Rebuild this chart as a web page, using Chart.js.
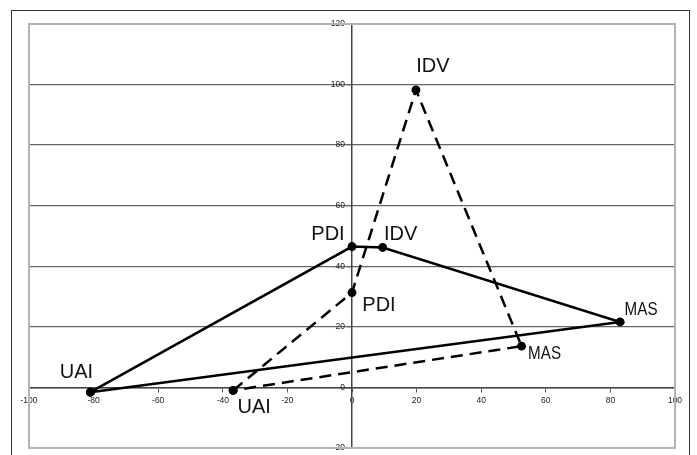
<!DOCTYPE html>
<html>
<head>
<meta charset="utf-8">
<script src="https://cdn.jsdelivr.net/npm/chart.js@4"></script>
<style>
  html, body { margin: 0; padding: 0; background: #fff; }
  #wrap { position: relative; width: 697px; height: 455px; }
  #frame { position: absolute; left: 11px; top: 10px; width: 677px; height: 460px;
           border-left: 1.5px solid #333; border-top: 1.5px solid #333; border-right: 1.5px solid #333; }
  canvas { position: absolute; left: 0; top: 0; }
</style>
</head>
<body>
<div id="wrap">
  <div id="frame"></div>
  <canvas id="c" width="697" height="455"></canvas>
</div>
<script>
// Dimension names
const dimensions = ['UAI', 'PDI', 'IDV', 'MAS'];
// Solid profile (x, y)
const solidX = [-81, 0, 9.5, 83];
const solidY = [-1.6, 46.5, 46.2, 21.6];
// Dashed profile (x, y)
const dashedX = [-36.8, 0, 19.8, 52.5];
const dashedY = [-1.0, 31.3, 98.2, 13.6];
// Axis ticks
const xTicks = [-100, -80, -60, -40, -20, 0, 20, 40, 60, 80, 100];
const yTicks = [-20, 0, 20, 40, 60, 80, 100, 120];

function closedPoints(xs, ys) {
  const pts = xs.map((x, i) => ({ x: x, y: ys[i] }));
  pts.push({ x: xs[0], y: ys[0] });
  return pts;
}

// label offsets (pixels) relative to each point, per dataset
const labelOffsets = [
  [[-14, -20], [-24, -12], [18, -13], [21, -12]],
  [[21, 17], [27, 13], [17, -24], [23, 8]]
];
const narrowLabel = 'MAS';

const framePlugin = {
  id: 'frame',
  afterDraw(chart) {
    const { ctx, chartArea: a } = chart;
    ctx.save();
    ctx.strokeStyle = '#b4b4b4';
    ctx.lineWidth = 2;
    ctx.strokeRect(a.left, a.top, a.right - a.left, a.bottom - a.top);
    ctx.restore();
  }
};

const labelPlugin = {
  id: 'pointLabels',
  afterDatasetsDraw(chart) {
    const ctx = chart.ctx;
    ctx.save();
    ctx.fillStyle = '#111';
    ctx.textAlign = 'center';
    ctx.textBaseline = 'middle';
    chart.data.datasets.forEach((ds, di) => {
      const meta = chart.getDatasetMeta(di);
      dimensions.forEach((name, i) => {
        const el = meta.data[i];
        const off = labelOffsets[di][i];
        const px = el.x + off[0], py = el.y + off[1];
        if (name === narrowLabel) {
          ctx.save();
          ctx.translate(px, py);
          ctx.scale(0.8, 1);
          ctx.font = '19px "Liberation Sans", Arial';
          ctx.fillText(name, 0, 0);
          ctx.restore();
        } else {
          ctx.font = '20px "Liberation Sans", Arial';
          ctx.fillText(name, px, py);
        }
      });
    });
    ctx.restore();
  }
};

new Chart(document.getElementById('c'), {
  type: 'scatter',
  data: {
    datasets: [
      {
        label: 'solid',
        data: closedPoints(solidX, solidY),
        showLine: true,
        borderColor: '#000',
        backgroundColor: '#000',
        borderWidth: 2.5,
        pointRadius: 3.2,
        pointHoverRadius: 3.2,
        tension: 0
      },
      {
        label: 'dashed',
        data: closedPoints(dashedX, dashedY),
        showLine: true,
        borderColor: '#000',
        backgroundColor: '#000',
        borderWidth: 2.5,
        borderDash: [12, 7],
        pointRadius: 3.2,
        pointHoverRadius: 3.2,
        tension: 0
      }
    ]
  },
  options: {
    responsive: false,
    animation: false,
    events: [],
    layout: { padding: { left: 29, top: 24, right: 22, bottom: 7 } },
    plugins: { legend: { display: false }, tooltip: { enabled: false } },
    scales: {
      x: {
        type: 'linear',
        position: { y: 0 },
        min: xTicks[0],
        max: xTicks[xTicks.length - 1],
        afterBuildTicks: (s) => { s.ticks = xTicks.map(v => ({ value: v })); },
        grid: { drawOnChartArea: false, drawTicks: true, tickLength: 4, color: '#555' },
        border: { display: true, color: '#444', width: 1.5 },
        ticks: { font: { size: 8.5, family: 'Liberation Sans, Arial' }, color: '#222', padding: 4, maxRotation: 0 }
      },
      y: {
        type: 'linear',
        position: { x: 0 },
        min: yTicks[0],
        max: yTicks[yTicks.length - 1],
        afterBuildTicks: (s) => { s.ticks = yTicks.map(v => ({ value: v })); },
        grid: { drawOnChartArea: true, drawTicks: true, tickLength: 4, color: '#666', lineWidth: 1.3 },
        border: { display: true, color: '#444', width: 1.5 },
        ticks: { font: { size: 8.5, family: 'Liberation Sans, Arial' }, color: '#222', padding: 2,
                 callback: (v) => v + '   ' }
      }
    }
  },
  plugins: [framePlugin, labelPlugin]
});
</script>
</body>
</html>
